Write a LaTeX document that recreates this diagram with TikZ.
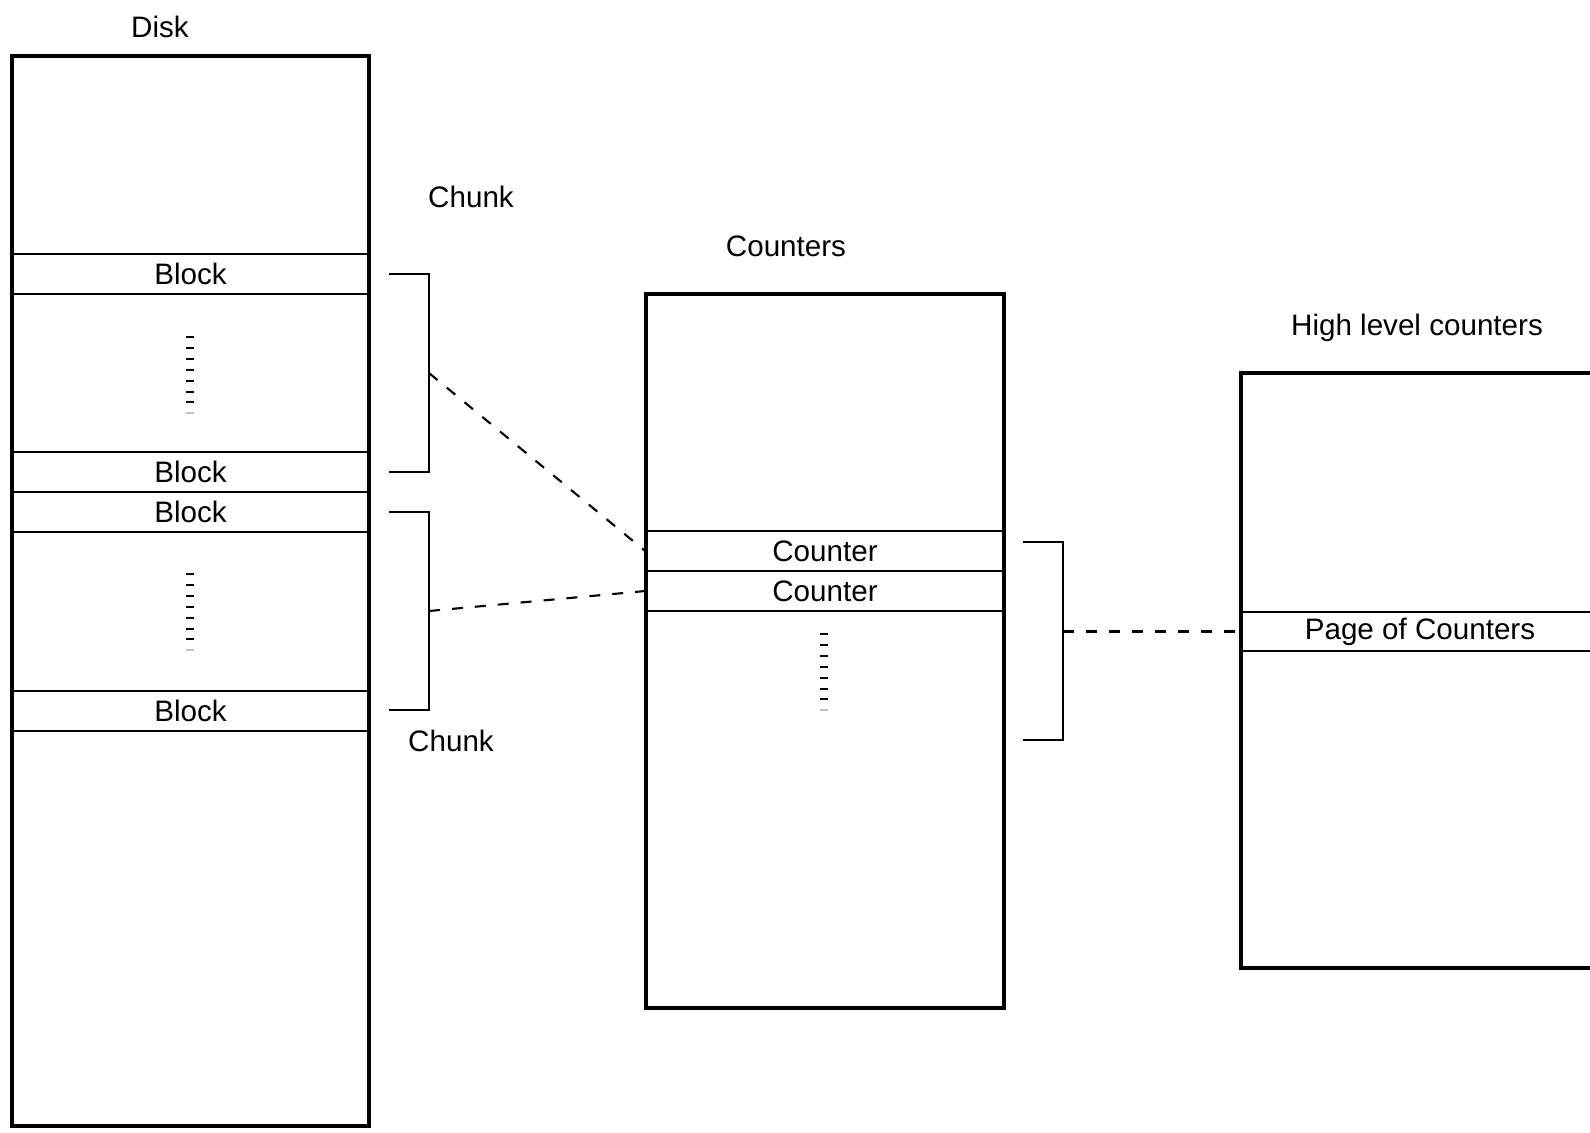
\documentclass[tikz,border=0pt]{standalone}
\usepackage{fontspec}
\setmainfont{Liberation Sans}
\usetikzlibrary{positioning}

\begin{document}
\begin{tikzpicture}[x=0.5pt, y=-0.5pt,
  lbl/.style={font=\fontsize{14.8}{17}\selectfont, inner sep=0pt},
  store/.style={draw, line width=1.7pt, inner sep=0pt,
    minimum width=178.5pt},
  slot/.style={draw, line width=0.8pt, inner sep=0pt,
    minimum width=178.5pt, minimum height=19.75pt,
    font=\fontsize{14.8}{17}\selectfont},
  brace/.style={line width=0.9pt},
  link/.style={line width=1.05pt, dash pattern=on 5.5pt off 6pt},
  tick/.style={line width=1pt}
]
\useasboundingbox (0,0) rectangle (1590,1132);
\clip (0,0) rectangle (1590,1132);

% titles
\node[lbl] (diskT) at (160,27) {Disk};
\node[lbl] (cntT)  at (786,246) {Counters};
\node[lbl] (highT) at (1417,328) {High level counters};
\node[lbl] (chA)   at (471,197) {Chunk};
\node[lbl] (chB)   at (451,741) {Chunk};

% rows
\node[slot] (b1) at (190.5,274) {Block};
\node[slot] (b2) at (190.5,472) {Block};
\node[slot] (b3) at (190.5,512) {Block};
\node[slot] (b4) at (190.5,711) {Block};
\node[slot, minimum width=179pt] (c1) at (825,551) {Counter};
\node[slot, minimum width=179pt] (c2) at (825,591) {Counter};
\node[slot, minimum width=179pt] (pg) at (1420,631.5) {Page of Counters};

% boxes
\node[store, minimum height=535pt] (disk) at (190.5,591) {};
\node[store, minimum width=179pt, minimum height=357pt] (cnt) at (825,651) {};
\node[store, minimum width=179pt, minimum height=297.5pt] (high) at (1420,670.5) {};

% dotted gaps
\foreach \x/\y in {190/337, 190/574, 824/634} {
  \foreach \i in {0,...,6}
    \draw[tick] (\x-4,{\y+10.9*\i}) -- (\x+4,{\y+10.9*\i});
  \draw[tick, gray!50] (\x-4,{\y+10.9*7}) -- (\x+4,{\y+10.9*7});
}

% brackets
\draw[brace] (389,274) -- (429,274) -- (429,472) -- (389,472);
\draw[brace] (389,512) -- (429,512) -- (429,710) -- (389,710);
\draw[brace] (1023,542) -- (1063,542) -- (1063,740) -- (1023,740);
\coordinate (k1) at (429,373);
\coordinate (k2) at (429,611);
\coordinate (k3) at (1063,631.5);

\draw[link] (k1) -- (c1.west);
\draw[link] (k2) -- (c2.west);
\draw[link] (k3) -- (pg.west);
\end{tikzpicture}
\end{document}
